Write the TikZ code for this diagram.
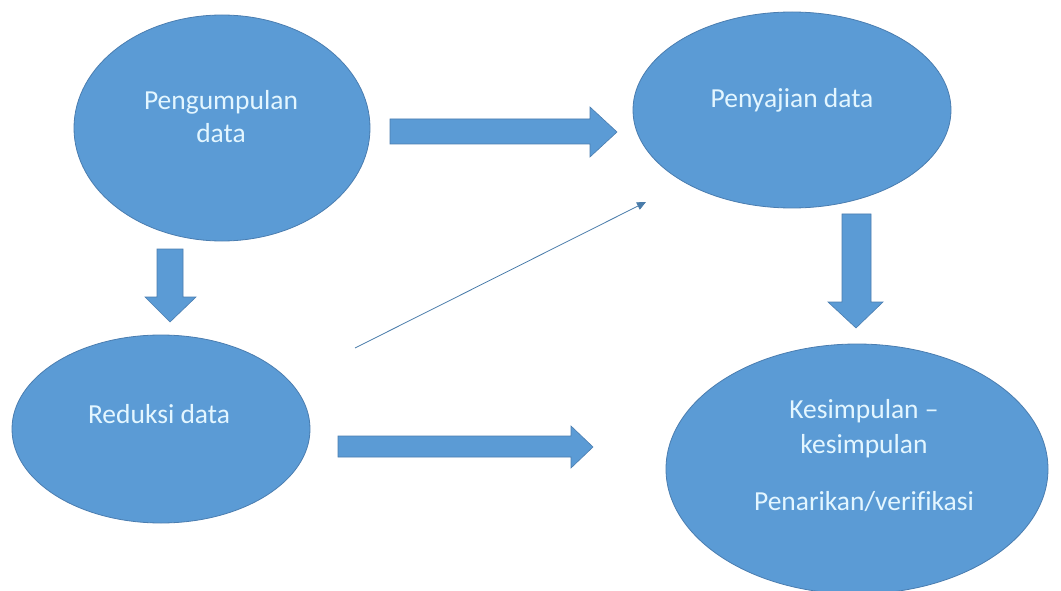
\documentclass[tikz,border=0pt]{standalone}
\usepackage{fontspec}
\setmainfont{Carlito}[Ligatures=NoCommon]
\usetikzlibrary{shapes.geometric,arrows.meta}
\definecolor{ofblue}{HTML}{5B9BD5}
\definecolor{ofline}{HTML}{4A7DB0}
\definecolor{oftext}{HTML}{E3F6FF}
\tikzset{
  blob/.style={ellipse, fill=ofblue, draw=ofline, line width=0.8pt, inner sep=0pt},
  lbl/.style={text=oftext, font=\fontsize{27.5}{32}\selectfont, anchor=base, inner sep=0pt},
  blockarrow/.style={fill=ofblue, draw=ofline, line width=0.6pt, line join=miter},
  thinarrow/.style={draw=ofblue!80!black, line width=0.8pt, -{Triangle[length=9pt,width=8pt]}}
}
\begin{document}
\begin{tikzpicture}[x=1pt,y=-1pt]
\useasboundingbox (0,0) rectangle (1061,591);
\fill[white] (0,0) rectangle (1061,591);

% ellipses
\node[blob, minimum width=296pt, minimum height=226pt] (e1) at (222,128) {};
\node[blob, minimum width=318pt, minimum height=196pt] (e2) at (792,110) {};
\node[blob, minimum width=298pt, minimum height=188pt] (e3) at (161,429) {};
\node[blob, minimum width=382pt, minimum height=250pt] (e4) at (857,469) {};

% labels
\node[lbl] (t1a) at (221,110) {Pengumpulan};
\node[lbl] (t1b) at (221,143) {data};
\node[lbl] (t2) at (792,108) {Penyajian data};
\node[lbl] (t3) at (159,423) {Reduksi data};
\node[lbl] (t4a) at (864,418) {Kesimpulan –};
\node[lbl] (t4b) at (864,453) {kesimpulan};
\node[lbl] (t4c) at (864,510) {Penarikan/verifikasi};

% block arrow: e1 -> e2
\draw[blockarrow] (390,119) -- (590,119) -- (590,107) -- (617,132) -- (590,157) -- (590,144) -- (390,144) -- cycle;
% block arrow: e1 -> e3
\draw[blockarrow] (157,249) -- (183,249) -- (183,297) -- (196,297) -- (170,322) -- (145,297) -- (157,297) -- cycle;
% block arrow: e2 -> e4
\draw[blockarrow] (842,214) -- (871,214) -- (871,302) -- (883,302) -- (856,328) -- (828,302) -- (842,302) -- cycle;
% block arrow: e3 -> e4
\draw[blockarrow] (338,436) -- (571,436) -- (571,426) -- (593,447) -- (571,468) -- (571,457) -- (338,457) -- cycle;

% thin arrow
\coordinate (ts) at (355,348);
\coordinate (te) at (646,202);
\draw[thinarrow] (ts) -- (te);
\end{tikzpicture}
\end{document}
